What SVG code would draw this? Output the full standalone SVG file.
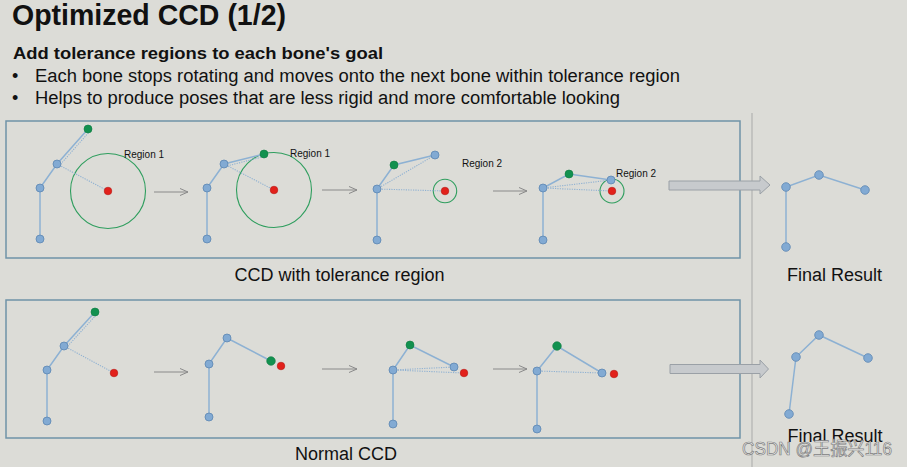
<svg xmlns="http://www.w3.org/2000/svg" width="907" height="467" viewBox="0 0 907 467">
<defs>
<style>
text{font-family:"Liberation Sans",Arial,sans-serif;fill:#111}
.panel{fill:none;stroke:#6f93a8;stroke-width:1.5}
.bone{stroke:#8db1d3;stroke-width:1.5;fill:none}
.dot{stroke:#8fb1d2;stroke-width:1.1;stroke-dasharray:1.2 1.2;fill:none}
.j{fill:#82aad3;stroke:#5d87b3;stroke-width:0.8}
.e{fill:#12914f;stroke:#0d7a40;stroke-width:0.6}
.t{fill:#e2211b;stroke:#b51712;stroke-width:0.6}
.reg{fill:none;stroke:#2f9e5e;stroke-width:1.1}
.sm{stroke:#8a8a8a;stroke-width:1;fill:none}
.big{fill:#c7cacd;stroke:#9aa0a6;stroke-width:1}
.lab{font-size:10px}
.cap{font-size:18px}
</style>
<marker id="ah" markerWidth="10" markerHeight="10" refX="9" refY="5" orient="auto" markerUnits="userSpaceOnUse">
<path d="M1,1.5 L9,5 L1,8.5" fill="none" stroke="#8a8a8a" stroke-width="1"/>
</marker>
</defs>
<rect width="907" height="467" fill="#dcdcd7"/>

<g id="header">
<text x="12" y="25" font-size="29" font-weight="bold" textLength="274" lengthAdjust="spacingAndGlyphs">Optimized CCD (1/2)</text>
<text x="13" y="59" font-size="16.5" font-weight="bold" textLength="370" lengthAdjust="spacingAndGlyphs">Add tolerance regions to each bone's goal</text>
<text x="12" y="82" font-size="18">•</text>
<text x="35" y="82" font-size="18" textLength="645" lengthAdjust="spacingAndGlyphs">Each bone stops rotating and moves onto the next bone within tolerance region</text>
<text x="12" y="104" font-size="18">•</text>
<text x="35" y="104" font-size="18" textLength="585" lengthAdjust="spacingAndGlyphs">Helps to produce poses that are less rigid and more comfortable looking</text>
</g>

<g id="panels">
<rect id="panel-tolerance" class="panel" x="6" y="121" width="734" height="137"/>
<rect id="panel-normal" class="panel" x="6" y="300" width="734" height="138"/>
<line id="divider" x1="752" y1="113" x2="752" y2="467" stroke="#a9aaa9" stroke-width="1"/>
</g>

<g id="connectors">
<line class="sm" x1="154" y1="192" x2="188" y2="192" marker-end="url(#ah)"/>
<line class="sm" x1="322" y1="190" x2="357" y2="190" marker-end="url(#ah)"/>
<line class="sm" x1="493" y1="191" x2="527" y2="191" marker-end="url(#ah)"/>
<line class="sm" x1="154" y1="372" x2="188" y2="372" marker-end="url(#ah)"/>
<line class="sm" x1="322" y1="369" x2="357" y2="369" marker-end="url(#ah)"/>
<line class="sm" x1="493" y1="369" x2="527" y2="369" marker-end="url(#ah)"/>
<path class="big" d="M669,181 H760 V176 L770,185 L760,194 V190 H669 Z"/>
<path class="big" d="M670,364.5 H760 V360 L768.5,369 L760,378 V373.5 H670 Z"/>
</g>

<g id="t1">
<circle class="reg" cx="108" cy="191" r="37.5"/>
<polyline class="bone" points="40,239 40,188 57,164 88,129"/>
<line class="dot" x1="59" y1="166" x2="90" y2="131"/>
<line class="dot" x1="57" y1="164" x2="108" y2="191"/>
<circle class="j" cx="40" cy="239" r="4"/><circle class="j" cx="40" cy="188" r="4"/><circle class="j" cx="57" cy="164" r="4"/>
<circle class="e" cx="88" cy="129" r="4"/><circle class="t" cx="108" cy="191" r="3.8"/>
<text class="lab" x="124" y="158">Region 1</text>
</g>
<g id="t2">
<circle class="reg" cx="274" cy="190" r="37.5"/>
<polyline class="bone" points="207,239 207,188 224,164 264,154"/>
<line class="dot" x1="225" y1="166.5" x2="264" y2="156.5"/>
<line class="dot" x1="224" y1="164" x2="274" y2="190"/>
<circle class="j" cx="207" cy="239" r="4"/><circle class="j" cx="207" cy="188" r="4"/><circle class="j" cx="224" cy="164" r="4"/>
<circle class="e" cx="264" cy="154" r="4"/><circle class="t" cx="274" cy="190" r="3.8"/>
<text class="lab" x="290" y="157">Region 1</text>
</g>
<g id="t3">
<circle class="reg" cx="445" cy="191" r="11.7"/>
<polyline class="bone" points="377,240 377,189 394,165 435,155"/>
<line class="dot" x1="377" y1="189" x2="435" y2="155"/>
<line class="dot" x1="377" y1="189" x2="445" y2="191"/>
<circle class="j" cx="377" cy="240" r="4"/><circle class="j" cx="377" cy="189" r="4"/><circle class="j" cx="435" cy="155" r="4"/>
<circle class="e" cx="394" cy="165" r="4"/><circle class="t" cx="445" cy="191" r="3.8"/>
<text class="lab" x="462" y="167">Region 2</text>
</g>
<g id="t4">
<circle class="reg" cx="612" cy="191" r="12"/>
<polyline class="bone" points="543,240 543,188 569,174 611,180"/>
<line class="dot" x1="543" y1="188" x2="611" y2="180"/>
<line class="dot" x1="543" y1="188" x2="612" y2="191"/>
<circle class="j" cx="543" cy="240" r="4"/><circle class="j" cx="543" cy="188" r="4"/><circle class="j" cx="611" cy="180" r="4"/>
<circle class="e" cx="569" cy="174" r="4"/><circle class="t" cx="612" cy="191" r="3.8"/>
<text class="lab" x="616" y="177">Region 2</text>
</g>
<g id="t-final">
<polyline class="bone" points="786,247 786,187 819,175 865,190"/>
<circle class="j" cx="786" cy="247" r="4.3"/><circle class="j" cx="786" cy="187" r="4.3"/><circle class="j" cx="819" cy="175" r="4.3"/><circle class="j" cx="865" cy="190" r="4.3"/>
</g>

<g id="n1">
<polyline class="bone" points="47,421 47,370 64,346 95,312"/>
<line class="dot" x1="66" y1="348" x2="97" y2="314"/>
<line class="dot" x1="64" y1="346" x2="114" y2="373"/>
<circle class="j" cx="47" cy="421" r="4"/><circle class="j" cx="47" cy="370" r="4"/><circle class="j" cx="64" cy="346" r="4"/>
<circle class="e" cx="95" cy="312" r="4"/><circle class="t" cx="114" cy="373" r="3.8"/>
</g>
<g id="n2">
<polyline class="bone" points="209,417 209,364 227,338 271,361"/>
<circle class="j" cx="209" cy="417" r="4"/><circle class="j" cx="209" cy="364" r="4"/><circle class="j" cx="227" cy="338" r="4"/>
<circle class="e" cx="271" cy="361" r="4.3"/><circle class="t" cx="281" cy="366" r="3.8"/>
</g>
<g id="n3">
<polyline class="bone" points="393,424 393,370 410,345 454,367"/>
<line class="dot" x1="393" y1="370" x2="454" y2="367"/>
<line class="dot" x1="393" y1="370" x2="464" y2="373"/>
<circle class="j" cx="393" cy="424" r="4"/><circle class="j" cx="393" cy="370" r="4"/><circle class="j" cx="454" cy="367" r="4"/>
<circle class="e" cx="410" cy="345" r="4"/><circle class="t" cx="464" cy="373" r="3.8"/>
</g>
<g id="n4">
<polyline class="bone" points="537,429 537,371 557,346 602,373"/>
<line class="dot" x1="537" y1="371" x2="602" y2="373"/>
<circle class="j" cx="537" cy="429" r="4"/><circle class="j" cx="537" cy="371" r="4"/><circle class="j" cx="602" cy="373" r="4"/>
<circle class="e" cx="557" cy="346" r="4.3"/><circle class="t" cx="614" cy="374" r="3.8"/>
</g>
<g id="n-final">
<polyline class="bone" points="789,414 796,357 819,335 868,358"/>
<circle class="j" cx="789" cy="414" r="4.3"/><circle class="j" cx="796" cy="357" r="4.3"/><circle class="j" cx="819" cy="335" r="4.3"/><circle class="j" cx="868" cy="358" r="4.3"/>
</g>

<g id="captions">
<text class="cap" x="339.5" y="281" text-anchor="middle">CCD with tolerance region</text>
<text class="cap" x="834.5" y="281" text-anchor="middle">Final Result</text>
<text class="cap" x="346" y="460" text-anchor="middle">Normal CCD</text>
<text class="cap" x="835" y="442" text-anchor="middle">Final Result</text>
</g>
<text id="watermark" x="742" y="455" font-size="18" style="font-family:'Liberation Sans','Noto Sans CJK SC',sans-serif;fill:#ededed;stroke:#7d7d7d;stroke-width:0.7" textLength="150" lengthAdjust="spacingAndGlyphs">CSDN @王振兴116</text>
</svg>
